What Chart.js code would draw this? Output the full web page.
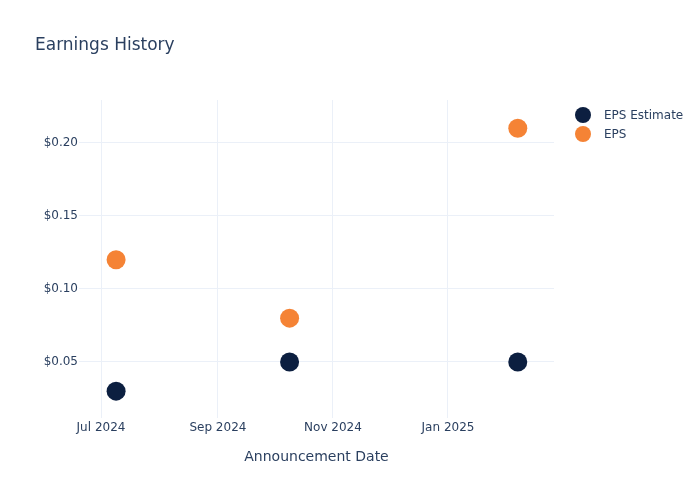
<!DOCTYPE html>
<html>
<head>
<meta charset="utf-8">
<script src="https://cdn.jsdelivr.net/npm/chart.js@4.4.1/dist/chart.umd.min.js"></script>
<style>
  html, body { margin: 0; padding: 0; background: #fff; }
  #wrap { position: relative; width: 700px; height: 500px; font-family: "DejaVu Sans", sans-serif; color: #2a3f5f; }
  #title { position: absolute; left: 35px; top: 34px; font-size: 17px; white-space: nowrap; }
  #legend { position: absolute; left: 575px; top: 105px; font-size: 12px; }
  .item { height: 19px; display: flex; align-items: center; }
  .dot { width: 16px; height: 16px; border-radius: 50%; margin-right: 13px; }
</style>
</head>
<body>
<div id="wrap">
  <canvas id="chart" width="700" height="500"></canvas>
  <div id="title">Earnings History</div>
  <div id="legend"></div>
</div>
<script>
// 数据
const dates = ['2024-07-09', '2024-10-09', '2025-02-07'];
const epsEstimate = [0.03, 0.05, 0.05];
const eps = [0.12, 0.08, 0.21];
const seriesNames = ['EPS Estimate', 'EPS'];
const seriesColors = ['#0c1f40', '#f58335'];
const xTickDates = ['2024-07-01', '2024-09-01', '2024-11-01', '2025-01-01'];
const xTickLabels = ['Jul 2024', 'Sep 2024', 'Nov 2024', 'Jan 2025'];
const yTicks = [0.05, 0.10, 0.15, 0.20];

const toTime = d => Date.parse(d + 'T00:00:00Z');

function points(values) {
    return dates.map((d, i) => ({ x: toTime(d), y: values[i] }));
}

// 图例
const legend = document.getElementById('legend');
seriesNames.forEach((name, i) => {
    const row = document.createElement('div');
    row.className = 'item';
    row.innerHTML = '<span class="dot" style="background:' + seriesColors[i] + '"></span>' + name;
    legend.appendChild(row);
});

const gridColor = '#ebf0f8';
const textColor = '#2a3f5f';
Chart.defaults.font.family = '"DejaVu Sans", sans-serif';

new Chart(document.getElementById('chart'), {
    type: 'scatter',
    data: {
        datasets: [
            { label: seriesNames[0], data: points(epsEstimate), backgroundColor: seriesColors[0], borderWidth: 0, pointRadius: 9.5, pointHoverRadius: 9.5 },
            { label: seriesNames[1], data: points(eps), backgroundColor: seriesColors[1], borderWidth: 0, pointRadius: 9.5, pointHoverRadius: 9.5 }
        ]
    },
    options: {
        responsive: false,
        animation: false,
        layout: { padding: { top: 100, right: 146, bottom: 0, left: 0 } },
        plugins: {
            legend: { display: false },
            tooltip: { enabled: false }
        },
        scales: {
            x: {
                type: 'linear',
                min: toTime('2024-06-19') + 8 * 3600000,
                max: toTime('2025-02-26') + 5 * 3600000,
                afterBuildTicks: scale => {
                    scale.ticks = xTickDates.map(d => ({ value: toTime(d) }));
                },
                afterFit: scale => { scale.height = 82; },
                ticks: {
                    color: textColor,
                    font: { size: 12 },
                    padding: 3,
                    maxRotation: 0,
                    autoSkip: false,
                    callback: function(value) {
                        const idx = xTickDates.findIndex(d => toTime(d) === value);
                        return idx >= 0 ? xTickLabels[idx] : '';
                    }
                },
                grid: { color: gridColor, drawTicks: false },
                border: { display: false },
                title: {
                    display: true,
                    text: 'Announcement Date',
                    color: textColor,
                    font: { size: 14 },
                    padding: { top: 4, bottom: 34 }
                }
            },
            y: {
                min: 0.0116,
                max: 0.2294,
                afterBuildTicks: scale => {
                    scale.ticks = yTicks.map(v => ({ value: v }));
                },
                afterFit: scale => { scale.width = 79; },
                ticks: {
                    color: textColor,
                    font: { size: 12 },
                    padding: 1,
                    callback: v => '$' + v.toFixed(2)
                },
                grid: { color: gridColor, drawTicks: false },
                border: { display: false }
            }
        }
    }
});
</script>
</body>
</html>
